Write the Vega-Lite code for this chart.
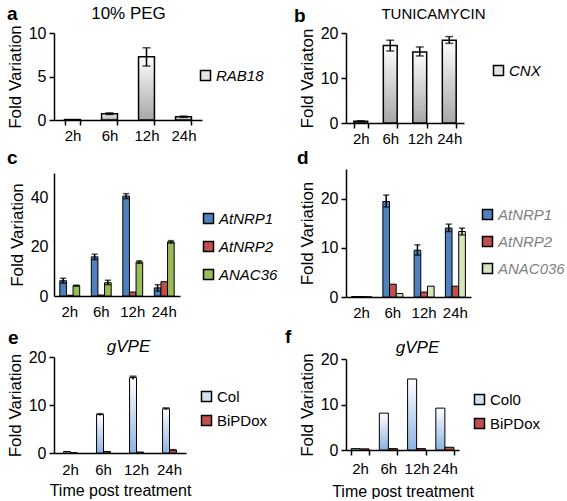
{
  "$schema": "https://vega.github.io/schema/vega-lite/v6.json",
  "padding": {"left": 6, "top": 4, "right": 0, "bottom": 0},
  "spacing": 7,
  "config": {
    "font": "Liberation Sans",
    "view": {"stroke": null},
    "axis": {"domainColor": "black", "tickColor": "black", "labelColor": "black", "titleColor": "black", "grid": false, "labelFontSize": 16, "titleFontSize": 17, "titleFontWeight": "normal", "domainWidth": 1.5, "tickWidth": 1.5, "tickSize": 5, "labelPadding": 3, "titlePadding": 4},
    "axisX": {"labelAngle": 0},
    "legend": {"labelFontSize": 15, "symbolType": "square", "symbolSize": 100, "symbolStrokeColor": "black", "symbolStrokeWidth": 1.5, "labelOffset": 3, "rowPadding": 8, "labelColor": "black"},
    "title": {"fontSize": 19, "fontWeight": "bold", "anchor": "start", "frame": "group", "color": "black", "offset": 0},
    "concat": {"spacing": 3}
  },
  "resolve": {"scale": {"color": "independent", "xOffset": "independent", "x": "independent", "y": "independent"}, "legend": {"color": "independent"}},
  "datasets": {
    "a": [
      {"time": "2h", "gene": "RAB18", "value": 0.05},
      {"time": "6h", "gene": "RAB18", "value": 0.72, "lo": 0.62, "hi": 0.82},
      {"time": "12h", "gene": "RAB18", "value": 7.28, "lo": 6.2, "hi": 8.3},
      {"time": "24h", "gene": "RAB18", "value": 0.38, "lo": 0.3, "hi": 0.45}
    ],
    "b": [
      {"time": "2h", "gene": "CNX", "value": 0.4, "lo": 0.3, "hi": 0.5},
      {"time": "6h", "gene": "CNX", "value": 17.2, "lo": 16.0, "hi": 18.4},
      {"time": "12h", "gene": "CNX", "value": 15.8, "lo": 14.9, "hi": 16.9},
      {"time": "24h", "gene": "CNX", "value": 18.4, "lo": 17.7, "hi": 19.2}
    ],
    "c": [
      {"time": "2h", "gene": "AtNRP1", "value": 6.2, "lo": 5.2, "hi": 7.2},
      {"time": "6h", "gene": "AtNRP1", "value": 15.9, "lo": 14.8, "hi": 17.0},
      {"time": "12h", "gene": "AtNRP1", "value": 40.6, "lo": 39.6, "hi": 41.6},
      {"time": "24h", "gene": "AtNRP1", "value": 3.3, "lo": 2.0, "hi": 4.6},
      {"time": "2h", "gene": "AtNRP2", "value": 0.3},
      {"time": "6h", "gene": "AtNRP2", "value": 0.4},
      {"time": "12h", "gene": "AtNRP2", "value": 1.6},
      {"time": "24h", "gene": "AtNRP2", "value": 5.8},
      {"time": "2h", "gene": "ANAC36", "value": 4.2, "lo": 4.0, "hi": 4.4},
      {"time": "6h", "gene": "ANAC36", "value": 5.4, "lo": 4.6, "hi": 6.4},
      {"time": "12h", "gene": "ANAC36", "value": 13.8, "lo": 13.3, "hi": 14.3},
      {"time": "24h", "gene": "ANAC36", "value": 22.0, "lo": 21.5, "hi": 22.5}
    ],
    "d": [
      {"time": "2h", "gene": "AtNRP1", "value": 0.1},
      {"time": "6h", "gene": "AtNRP1", "value": 19.4, "lo": 18.3, "hi": 20.7},
      {"time": "12h", "gene": "AtNRP1", "value": 9.5, "lo": 8.5, "hi": 10.6},
      {"time": "24h", "gene": "AtNRP1", "value": 14.0, "lo": 13.3, "hi": 14.8},
      {"time": "2h", "gene": "AtNRP2", "value": 0.1},
      {"time": "6h", "gene": "AtNRP2", "value": 2.6},
      {"time": "12h", "gene": "AtNRP2", "value": 1.0},
      {"time": "24h", "gene": "AtNRP2", "value": 2.2},
      {"time": "2h", "gene": "ANAC036", "value": 0.05},
      {"time": "6h", "gene": "ANAC036", "value": 0.7},
      {"time": "12h", "gene": "ANAC036", "value": 2.2},
      {"time": "24h", "gene": "ANAC036", "value": 13.3, "lo": 12.6, "hi": 14.0}
    ],
    "e": [
      {"time": "2h", "gene": "Col", "value": 0.3},
      {"time": "6h", "gene": "Col", "value": 8.0, "lo": 7.8, "hi": 8.2},
      {"time": "12h", "gene": "Col", "value": 15.7, "lo": 15.3, "hi": 16.0},
      {"time": "24h", "gene": "Col", "value": 9.2, "lo": 9.0, "hi": 9.4},
      {"time": "2h", "gene": "BiPDox", "value": 0.05},
      {"time": "6h", "gene": "BiPDox", "value": 0.3},
      {"time": "12h", "gene": "BiPDox", "value": 0.2},
      {"time": "24h", "gene": "BiPDox", "value": 0.6, "lo": 0.5, "hi": 0.7}
    ],
    "f": [
      {"time": "2h", "gene": "Col0", "value": 0.3},
      {"time": "6h", "gene": "Col0", "value": 8.1},
      {"time": "12h", "gene": "Col0", "value": 15.6},
      {"time": "24h", "gene": "Col0", "value": 9.2},
      {"time": "2h", "gene": "BiPDox", "value": 0.25},
      {"time": "6h", "gene": "BiPDox", "value": 0.3},
      {"time": "12h", "gene": "BiPDox", "value": 0.3},
      {"time": "24h", "gene": "BiPDox", "value": 0.6}
    ]
  },
  "hconcat": [
    {
      "spacing": 6,
      "resolve": {"scale": {"color": "independent", "xOffset": "independent", "x": "independent", "y": "independent"}, "legend": {"color": "independent"}},
      "vconcat": [
        {
          "width": 148, "height": 87,
          "title": {"text": "a", "dx": -47, "dy": 24},
          "data": {"name": "a"},
          "resolve": {"axis": {"x": "independent"}},
          "layer": [
            {
              "mark": {"type": "bar", "stroke": "black", "strokeWidth": 1.5},
              "encoding": {
                "x": {"field": "time", "type": "nominal", "sort": ["2h", "6h", "12h", "24h"], "scale": {"paddingInner": 0.57, "paddingOuter": 0.285}, "axis": {"title": null, "labelFontSize": 15, "tickBand": "extent"}},
                "y": {"field": "value", "type": "quantitative", "title": "Fold Variation", "scale": {"domain": [0, 10]}, "axis": {"values": [0, 5, 10]}},
                "color": {"condition": {"test": "true", "value": {"gradient": "linear", "x1": 0, "y1": 0, "x2": 0, "y2": 1, "stops": [{"offset": 0, "color": "#ffffff"}, {"offset": 1, "color": "#a6a6a6"}]}}, "field": "gene", "type": "nominal", "scale": {"range": ["#e4e4e4"]}, "legend": {"title": null, "orient": "none", "legendX": 144, "legendY": 35, "labelFontStyle": "italic"}}
              }
            },
            {
              "mark": {"type": "rule", "color": "black", "strokeWidth": 1.5},
              "encoding": {
                "x": {"field": "time", "type": "nominal", "sort": ["2h", "6h", "12h", "24h"], "axis": {"orient": "top", "title": "10% PEG", "labels": false, "ticks": false, "domain": false, "titleFontSize": 17, "titlePadding": 11}},
                "y": {"field": "lo", "type": "quantitative", "title": "Fold Variation"},
                "y2": {"field": "hi"}
              }
            },
            {
              "mark": {"type": "tick", "color": "black", "thickness": 1.5, "size": 8},
              "encoding": {
                "x": {"field": "time", "type": "nominal", "sort": ["2h", "6h", "12h", "24h"], "axis": null},
                "y": {"field": "hi", "type": "quantitative", "title": "Fold Variation"}
              }
            },
            {
              "mark": {"type": "tick", "color": "black", "thickness": 1.5, "size": 8},
              "encoding": {
                "x": {"field": "time", "type": "nominal", "sort": ["2h", "6h", "12h", "24h"], "axis": null},
                "y": {"field": "lo", "type": "quantitative", "title": "Fold Variation"}
              }
            }
          ]
        },
        {
          "spacing": 10,
          "resolve": {"scale": {"color": "independent", "xOffset": "independent", "x": "independent", "y": "independent"}, "legend": {"color": "independent"}},
          "vconcat": [
            {
              "width": 126, "height": 123,
              "title": {"text": "c", "dx": -47, "dy": -1},
              "data": {"name": "c"},
              "layer": [
                {
                  "mark": {"type": "bar", "stroke": "black", "strokeWidth": 1},
                  "encoding": {
                    "x": {"field": "time", "type": "nominal", "sort": ["2h", "6h", "12h", "24h"], "scale": {"paddingInner": 0.37, "paddingOuter": 0.185}, "axis": {"title": null, "labelFontSize": 15, "ticks": false, "labelPadding": 8}},
                    "xOffset": {"field": "gene", "type": "nominal", "sort": ["AtNRP1", "AtNRP2", "ANAC36"]},
                    "y": {"field": "value", "type": "quantitative", "title": "Fold Variation", "scale": {"domain": [0, 50]}, "axis": {"values": [0, 10, 20, 30, 40, 50], "ticks": false, "labelPadding": 6}},
                    "color": {"field": "gene", "type": "nominal", "sort": ["AtNRP1", "AtNRP2", "ANAC36"], "scale": {"domain": ["AtNRP1", "AtNRP2", "ANAC36"], "range": ["#4f81bd", "#c0504d", "#9bbb59"]}, "legend": {"title": null, "orient": "none", "legendX": 147, "legendY": 38, "labelFontStyle": "italic", "rowPadding": 11}}
                  }
                },
                {
                  "mark": {"type": "rule", "color": "black", "strokeWidth": 1.5},
                  "encoding": {
                    "x": {"field": "time", "type": "nominal", "sort": ["2h", "6h", "12h", "24h"]},
                    "xOffset": {"field": "gene", "type": "nominal", "sort": ["AtNRP1", "AtNRP2", "ANAC36"]},
                    "y": {"field": "lo", "type": "quantitative", "title": "Fold Variation"},
                    "y2": {"field": "hi"}
                  }
                },
                {
                  "mark": {"type": "tick", "color": "black", "thickness": 1.5, "size": 6},
                  "encoding": {
                    "x": {"field": "time", "type": "nominal", "sort": ["2h", "6h", "12h", "24h"]},
                    "xOffset": {"field": "gene", "type": "nominal", "sort": ["AtNRP1", "AtNRP2", "ANAC36"]},
                    "y": {"field": "hi", "type": "quantitative", "title": "Fold Variation"}
                  }
                },
                {
                  "mark": {"type": "tick", "color": "black", "thickness": 1.5, "size": 6},
                  "encoding": {
                    "x": {"field": "time", "type": "nominal", "sort": ["2h", "6h", "12h", "24h"]},
                    "xOffset": {"field": "gene", "type": "nominal", "sort": ["AtNRP1", "AtNRP2", "ANAC36"]},
                    "y": {"field": "lo", "type": "quantitative", "title": "Fold Variation"}
                  }
                }
              ]
            },
            {
              "width": 132, "height": 96,
              "title": {"text": "e", "dx": -46, "dy": 15},
              "data": {"name": "e"},
              "resolve": {"axis": {"x": "independent"}},
              "layer": [
                {
                  "mark": {"type": "bar", "stroke": "black", "strokeWidth": 1},
                  "encoding": {
                    "x": {"field": "time", "type": "nominal", "sort": ["2h", "6h", "12h", "24h"], "scale": {"paddingInner": 0.58, "paddingOuter": 0.29}, "axis": {"title": "Time post treatment", "titleFontSize": 16, "titlePadding": 5, "labelFontSize": 15, "ticks": false, "labelPadding": 9}},
                    "xOffset": {"field": "gene", "type": "nominal", "sort": ["Col", "BiPDox"]},
                    "y": {"field": "value", "type": "quantitative", "title": "Fold Variation", "scale": {"domain": [0, 20]}, "axis": {"values": [0, 5, 10, 15, 20]}},
                    "color": {"condition": {"test": "datum.gene === 'Col'", "value": {"gradient": "linear", "x1": 0, "y1": 0, "x2": 0, "y2": 1, "stops": [{"offset": 0, "color": "#ffffff"}, {"offset": 1, "color": "#8db3e2"}]}}, "field": "gene", "type": "nominal", "sort": ["Col", "BiPDox"], "scale": {"domain": ["Col", "BiPDox"], "range": ["#d5e2f2", "#c0504d"]}, "legend": {"title": null, "orient": "none", "legendX": 145, "legendY": 32, "rowPadding": 7}}
                  }
                },
                {
                  "mark": {"type": "rule", "color": "black", "strokeWidth": 1.5},
                  "encoding": {
                    "x": {"field": "time", "type": "nominal", "sort": ["2h", "6h", "12h", "24h"], "axis": {"orient": "top", "title": "gVPE", "titleFontStyle": "italic", "labels": false, "ticks": false, "domain": false, "titleFontSize": 17, "titlePadding": 2, "titleX": 74}},
                    "xOffset": {"field": "gene", "type": "nominal", "sort": ["Col", "BiPDox"]},
                    "y": {"field": "lo", "type": "quantitative", "title": "Fold Variation"},
                    "y2": {"field": "hi"}
                  }
                },
                {
                  "mark": {"type": "tick", "color": "black", "thickness": 1.5, "size": 7},
                  "encoding": {
                    "x": {"field": "time", "type": "nominal", "sort": ["2h", "6h", "12h", "24h"], "axis": null},
                    "xOffset": {"field": "gene", "type": "nominal", "sort": ["Col", "BiPDox"]},
                    "y": {"field": "hi", "type": "quantitative", "title": "Fold Variation"}
                  }
                }
              ]
            }
          ]
        }
      ]
    },
    {
      "spacing": 3,
      "resolve": {"scale": {"color": "independent", "xOffset": "independent", "x": "independent", "y": "independent"}, "legend": {"color": "independent"}},
      "vconcat": [
        {
          "width": 118, "height": 90,
          "title": {"text": "b", "dx": -52, "dy": 24},
          "data": {"name": "b"},
          "resolve": {"axis": {"x": "independent"}},
          "layer": [
            {
              "mark": {"type": "bar", "stroke": "black", "strokeWidth": 1.5},
              "encoding": {
                "x": {"field": "time", "type": "nominal", "sort": ["2h", "6h", "12h", "24h"], "scale": {"paddingInner": 0.53, "paddingOuter": 0.265}, "axis": {"title": null, "labelFontSize": 15, "tickBand": "extent"}},
                "y": {"field": "value", "type": "quantitative", "title": "Fold Variaton", "scale": {"domain": [0, 20]}, "axis": {"values": [0, 5, 10, 15, 20]}},
                "color": {"condition": {"test": "true", "value": {"gradient": "linear", "x1": 0, "y1": 0, "x2": 0, "y2": 1, "stops": [{"offset": 0, "color": "#ffffff"}, {"offset": 1, "color": "#a6a6a6"}]}}, "field": "gene", "type": "nominal", "scale": {"range": ["#e4e4e4"]}, "legend": {"title": null, "orient": "none", "legendX": 145, "legendY": 30, "labelFontStyle": "italic"}}
              }
            },
            {
              "mark": {"type": "rule", "color": "black", "strokeWidth": 1.5},
              "encoding": {
                "x": {"field": "time", "type": "nominal", "sort": ["2h", "6h", "12h", "24h"], "axis": {"orient": "top", "title": "TUNICAMYCIN", "labels": false, "ticks": false, "domain": false, "titleFontSize": 15, "titlePadding": 12, "titleX": 87}},
                "y": {"field": "lo", "type": "quantitative", "title": "Fold Variaton"},
                "y2": {"field": "hi"}
              }
            },
            {
              "mark": {"type": "tick", "color": "black", "thickness": 1.5, "size": 8},
              "encoding": {
                "x": {"field": "time", "type": "nominal", "sort": ["2h", "6h", "12h", "24h"], "axis": null},
                "y": {"field": "hi", "type": "quantitative", "title": "Fold Variaton"}
              }
            },
            {
              "mark": {"type": "tick", "color": "black", "thickness": 1.5, "size": 8},
              "encoding": {
                "x": {"field": "time", "type": "nominal", "sort": ["2h", "6h", "12h", "24h"], "axis": null},
                "y": {"field": "lo", "type": "quantitative", "title": "Fold Variaton"}
              }
            }
          ]
        },
        {
          "spacing": 8,
          "resolve": {"scale": {"color": "independent", "xOffset": "independent", "x": "independent", "y": "independent"}, "legend": {"color": "independent"}},
          "vconcat": [
            {
              "width": 125, "height": 128,
              "title": {"text": "d", "dx": -49, "dy": 3},
              "data": {"name": "d"},
              "layer": [
                {
                  "mark": {"type": "bar", "stroke": "black", "strokeWidth": 1},
                  "encoding": {
                    "x": {"field": "time", "type": "nominal", "sort": ["2h", "6h", "12h", "24h"], "scale": {"paddingInner": 0.36, "paddingOuter": 0.18}, "axis": {"title": null, "labelFontSize": 15, "ticks": false, "labelPadding": 8}},
                    "xOffset": {"field": "gene", "type": "nominal", "sort": ["AtNRP1", "AtNRP2", "ANAC036"]},
                    "y": {"field": "value", "type": "quantitative", "title": "Fold Variation", "scale": {"domain": [0, 25]}, "axis": {"values": [0, 5, 10, 15, 20, 25]}},
                    "color": {"field": "gene", "type": "nominal", "sort": ["AtNRP1", "AtNRP2", "ANAC036"], "scale": {"domain": ["AtNRP1", "AtNRP2", "ANAC036"], "range": ["#4f81bd", "#c0504d", "#d7e4bd"]}, "legend": {"title": null, "orient": "none", "legendX": 134, "legendY": 38, "labelFontStyle": "italic", "labelColor": "#7f7f7f", "rowPadding": 10}}
                  }
                },
                {
                  "mark": {"type": "rule", "color": "black", "strokeWidth": 1.5},
                  "encoding": {
                    "x": {"field": "time", "type": "nominal", "sort": ["2h", "6h", "12h", "24h"]},
                    "xOffset": {"field": "gene", "type": "nominal", "sort": ["AtNRP1", "AtNRP2", "ANAC036"]},
                    "y": {"field": "lo", "type": "quantitative", "title": "Fold Variation"},
                    "y2": {"field": "hi"}
                  }
                },
                {
                  "mark": {"type": "tick", "color": "black", "thickness": 1.5, "size": 6},
                  "encoding": {
                    "x": {"field": "time", "type": "nominal", "sort": ["2h", "6h", "12h", "24h"]},
                    "xOffset": {"field": "gene", "type": "nominal", "sort": ["AtNRP1", "AtNRP2", "ANAC036"]},
                    "y": {"field": "hi", "type": "quantitative", "title": "Fold Variation"}
                  }
                },
                {
                  "mark": {"type": "tick", "color": "black", "thickness": 1.5, "size": 6},
                  "encoding": {
                    "x": {"field": "time", "type": "nominal", "sort": ["2h", "6h", "12h", "24h"]},
                    "xOffset": {"field": "gene", "type": "nominal", "sort": ["AtNRP1", "AtNRP2", "ANAC036"]},
                    "y": {"field": "lo", "type": "quantitative", "title": "Fold Variation"}
                  }
                }
              ]
            },
            {
              "width": 113, "height": 91,
              "title": {"text": "f", "dx": -61, "dy": 13},
              "data": {"name": "f"},
              "resolve": {"axis": {"x": "independent"}},
              "layer": [
                {
                  "mark": {"type": "bar", "stroke": "black", "strokeWidth": 1},
                  "encoding": {
                    "x": {"field": "time", "type": "nominal", "sort": ["2h", "6h", "12h", "24h"], "scale": {"paddingInner": 0.36, "paddingOuter": 0.18}, "axis": {"title": "Time post treatment", "titleFontSize": 16, "titlePadding": 7, "labelFontSize": 15, "tickBand": "extent", "labelPadding": 6}},
                    "xOffset": {"field": "gene", "type": "nominal", "sort": ["Col0", "BiPDox"]},
                    "y": {"field": "value", "type": "quantitative", "title": "Fold Variation", "scale": {"domain": [0, 20]}, "axis": {"values": [0, 5, 10, 15, 20]}},
                    "color": {"condition": {"test": "datum.gene === 'Col0'", "value": {"gradient": "linear", "x1": 0, "y1": 0, "x2": 0, "y2": 1, "stops": [{"offset": 0, "color": "#ffffff"}, {"offset": 1, "color": "#8db3e2"}]}}, "field": "gene", "type": "nominal", "sort": ["Col0", "BiPDox"], "scale": {"domain": ["Col0", "BiPDox"], "range": ["#d5e2f2", "#c0504d"]}, "legend": {"title": null, "orient": "none", "legendX": 126, "legendY": 33, "rowPadding": 7}}
                  }
                },
                {
                  "mark": {"type": "rule", "color": "black", "strokeWidth": 1.5},
                  "encoding": {
                    "x": {"field": "time", "type": "nominal", "sort": ["2h", "6h", "12h", "24h"], "axis": {"orient": "top", "title": "gVPE", "titleFontStyle": "italic", "labels": false, "ticks": false, "domain": false, "titleFontSize": 17, "titlePadding": 3, "titleX": 71}},
                    "xOffset": {"field": "gene", "type": "nominal", "sort": ["Col0", "BiPDox"]},
                    "y": {"field": "lo", "type": "quantitative", "title": "Fold Variation"},
                    "y2": {"field": "hi"}
                  }
                }
              ]
            }
          ]
        }
      ]
    }
  ]
}
